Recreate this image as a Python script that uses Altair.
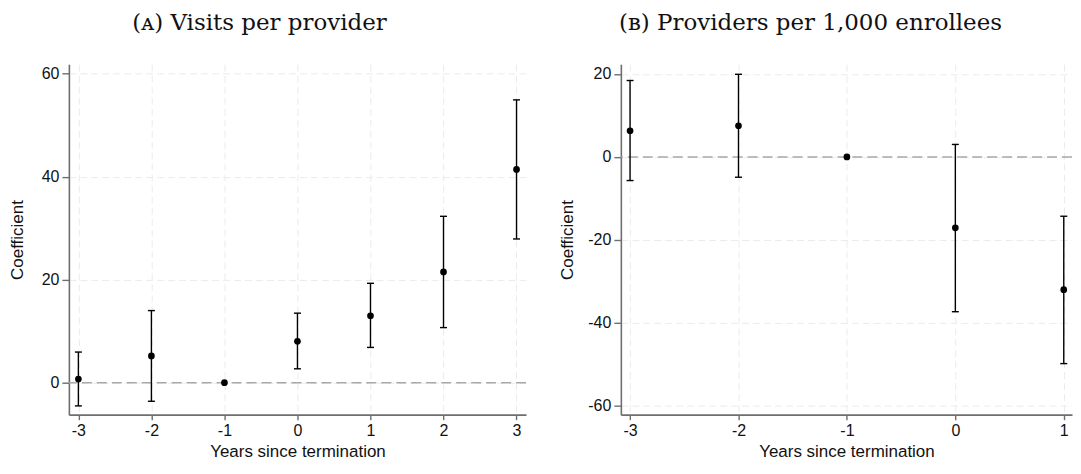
import altair as alt
import pandas as pd

# Panel A: Visits per provider
years_a = [-3, -2, -1, 0, 1, 2, 3]
coef_a = [0.7, 5.2, 0.0, 8.05, 13.0, 21.5, 41.4]
lo_a = [-4.5, -3.6, None, 2.7, 6.85, 10.7, 27.9]
hi_a = [5.95, 14.0, None, 13.5, 19.3, 32.3, 54.9]
yticks_a = [0, 20, 40, 60]

# Panel B: Providers per 1,000 enrollees
years_b = [-3, -2, -1, 0, 1]
coef_b = [6.3, 7.5, 0.0, -17.1, -32.0]
lo_b = [-5.7, -4.9, None, -37.3, -49.8]
hi_b = [18.4, 19.9, None, 3.0, -14.3]
yticks_b = [-60, -40, -20, 0, 20]

title_a = "(ᴀ) Visits per provider"
title_b = "(ʙ) Providers per 1,000 enrollees"
x_title = "Years since termination"
y_title = "Coefficient"

INK = "#000000"
PLOT_H = 351


def panel(years, coef, lo, hi, xdom, ydom, yticks, title, w, tpad, tdx):
    df = pd.DataFrame({"year": years, "coef": coef, "lo": lo, "hi": hi})
    eb = df.dropna()
    xs = alt.Scale(domain=xdom, nice=False, zero=False)
    ys = alt.Scale(domain=ydom, nice=False, zero=False)
    x_axis = alt.Axis(values=years, title=x_title, labelExpr="datum.value + ''",
                      tickSize=5, labelPadding=3, titlePadding=5,
                      grid=True, gridDash=[7, 4], gridColor="#ebebeb")
    y_axis = alt.Axis(values=yticks, title=y_title, labelExpr="datum.value + ''",
                      tickSize=7, labelPadding=3, titlePadding=tpad,
                      grid=True, gridDash=[7, 4], gridColor="#ebebeb")
    X = alt.X("year:Q", scale=xs, axis=x_axis)

    def Y(f):
        return alt.Y(f, scale=ys, axis=y_axis)

    pts = alt.Chart(df).mark_circle(size=45, color=INK, opacity=1).encode(x=X, y=Y("coef:Q"))
    zero = alt.Chart(pd.DataFrame({"z": [0]})).mark_rule(
        color="#a8a8a8", strokeDash=[10, 5], strokeWidth=1.5
    ).encode(y=Y("z:Q"))
    bars = alt.Chart(eb).mark_rule(color=INK, strokeWidth=1.4).encode(
        x=X, y=Y("lo:Q"), y2="hi:Q"
    )
    cap_lo = alt.Chart(eb).mark_tick(orient="horizontal", size=7, thickness=1.4, color=INK, opacity=1).encode(
        x=X, y=Y("lo:Q")
    )
    cap_hi = alt.Chart(eb).mark_tick(orient="horizontal", size=7, thickness=1.4, color=INK, opacity=1).encode(
        x=X, y=Y("hi:Q")
    )
    return alt.layer(zero, bars, cap_lo, cap_hi, pts).properties(
        width=w, height=PLOT_H,
        title=alt.TitleParams(title, font="DejaVu Serif", fontSize=23, fontWeight="normal",
                              color="#111111", anchor="middle", dx=tdx, offset=29),
    )


left = panel(years_a, coef_a, lo_a, hi_a, [-3.13, 3.13], [-6.2, 61.8], yticks_a, title_a, 458, 15, -38)
right = panel(years_b, coef_b, lo_b, hi_b, [-3.085, 1.076], [-62.1, 22.3], yticks_b, title_b, 452, 11, -36)

chart = alt.hconcat(left, right, spacing=95, bounds="flush").properties(
    padding={"top": 4, "left": 0, "right": 0, "bottom": 0}, background="white"
).configure_view(stroke=None).configure_axis(
    domainColor="#6e6e6e", domainWidth=1.6, tickColor="#6e6e6e", tickWidth=1.4,
    labelFont="Liberation Sans", labelFontSize=16, labelColor="#111111",
    titleFont="Liberation Sans", titleFontSize=17, titleFontWeight="normal", titleColor="#111111",
)

chart.save("out.html", embed_options={"renderer": "svg", "actions": False})
